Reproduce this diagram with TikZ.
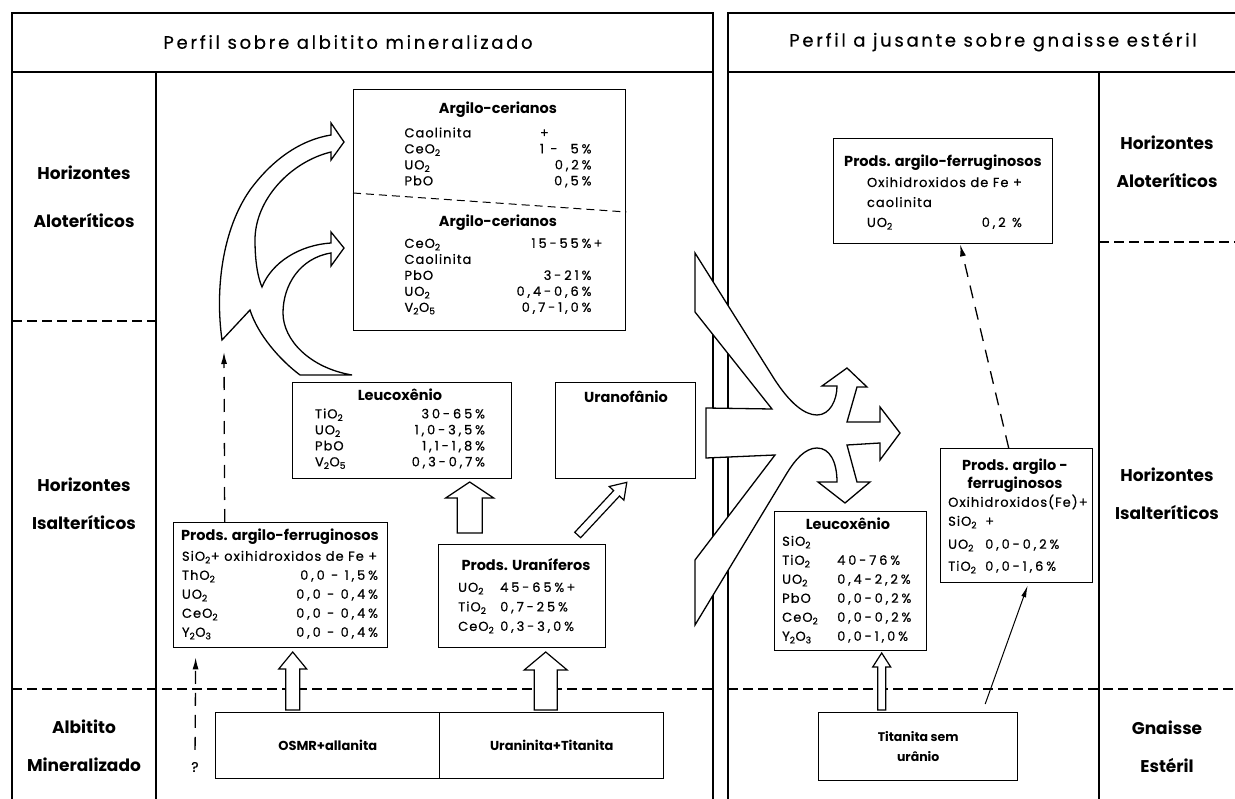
\documentclass[tikz,border=0pt]{standalone}
\usepackage{fontspec}
\setmainfont{Poppins}
\newfontfamily\bodyfont[LetterSpace=8,FakeBold=0.6]{Poppins}
\newfontfamily\numfont[LetterSpace=22,FakeBold=0.6]{Poppins}
\newfontfamily\ttlfont[LetterSpace=15,FakeBold=0.4]{Poppins}
\usetikzlibrary{arrows.meta,calc}

\newcommand{\low}[1]{\textsubscript{#1}}
\newcommand{\vl}[1]{{\numfont #1}}
\newcommand{\hd}[1]{\multicolumn{2}{c}{\makebox[0pt]{\normalfont\fontsize{14.5}{16}\selectfont\bfseries #1}}}
\newcommand{\oxrows}[2]{\begin{tabular*}{#1}{@{}l@{\extracolsep{\fill}}r@{}}#2\end{tabular*}}

\tikzset{
  frame/.style={line width=1.6pt},
  zone/.style={line width=1.2pt, dash pattern=on 10pt off 5pt},
  box/.style={draw, line width=1.4pt, inner sep=0pt, anchor=north west},
  txt/.style={inner sep=0pt, font=\bodyfont\fontsize{13}{16}\selectfont},
  head/.style={inner sep=0pt, align=center, font=\fontsize{14.5}{18}\selectfont\bfseries},
  lbl/.style={inner sep=0pt, align=center, font=\fontsize{17}{38}\selectfont\bfseries},
  band/.style={draw, fill=white, line width=1.3pt, line join=miter},
  hollow/.style={draw, fill=white, line width=1.2pt, line join=miter},
  dasharrow/.style={line width=1.3pt, dash pattern=on 13pt off 9pt, -{Latex[length=12pt,width=6pt]}},
  thinarrow/.style={line width=1pt, -{Latex[length=12pt,width=5pt]}},
  pics/harrow/.style n args={4}{code={
    \draw[hollow] (0,-#2) -- (#1-#4,-#2) -- (#1-#4,-#3) -- (#1,0)
      -- (#1-#4,#3) -- (#1-#4,#2) -- (0,#2) -- cycle;}}
}

\begin{document}
\begin{tikzpicture}[x=1pt,y=-1pt]
  \useasboundingbox (0,0) rectangle (1235,799);
  \fill[white] (0,0) rectangle (1235,799);
  \clip (0,0) rectangle (1235,799);

  % the two profiles
  \draw[frame] (12,805) -- (12,13) -- (713,13) -- (713,805);
  \draw[frame] (12,72) -- (713,72);
  \draw[frame] (156,72) -- (156,805);
  \draw[frame] (728,805) -- (728,13) -- (1240,13);
  \draw[frame] (728,72) -- (1240,72);
  \draw[frame] (1099,72) -- (1099,805);
  \draw[zone] (12,321) -- (156,321);
  \draw[zone] (1099,242) -- (1240,242);
  \draw[zone] (12,689) -- (713,689);
  \draw[zone] (728,689) -- (1240,689);

  \node[inner sep=0pt, font=\ttlfont\fontsize{18}{20}\selectfont] (ttlA) at (348,42) {Perfil sobre albitito mineralizado};
  \node[inner sep=0pt, font=\ttlfont\fontsize{18}{20}\selectfont] (ttlB) at (993,42) {Perfil a jusante sobre gnaisse estéril};

  \node[lbl] (aloA) at (84,197) {Horizontes\\[10pt]Aloteríticos};
  \node[lbl] (isaA) at (84,504) {Horizontes\\Isalteríticos};
  \node[lbl] (albA) at (84,746) {Albitito\\Mineralizado};
  \node[lbl] (aloB) at (1167,162) {Horizontes\\Aloteríticos};
  \node[lbl] (isaB) at (1167,494) {Horizontes\\Isalteríticos};
  \node[lbl] (gnaB) at (1167,747) {Gnaisse\\Estéril};

  % split arrow into the right profile
  \draw[band] (695,253) -- (773,377) .. controls (790,404) and (805,415) .. (817,415)
    .. controls (830,415) and (837,400) .. (837,386) -- (822,386) -- (847,368) -- (867,387)
    -- (857,387) -- (847,422) -- (880,422) -- (880,407) -- (900,433) -- (880,460)
    -- (880,443) -- (847,445) -- (857,482) -- (870,482) -- (845,503) -- (818,482)
    -- (837,482) .. controls (837,462) and (830,448) .. (817,448)
    .. controls (805,448) and (795,460) .. (787,473) -- (695,625) -- (695,560)
    -- (775,455) -- (706,458) -- (706,408) -- (772,409) -- (695,312) -- cycle;

  % forked arrow towards the argilo-cerianos
  \draw[band] (300,375) .. controls (280,360) and (258,335) .. (250,310) -- (222,340)
    .. controls (215,290) and (222,230) .. (250,190) .. controls (272,160) and (300,140) .. (331,135)
    -- (331,123) -- (344,142) -- (331,160) -- (331,152)
    .. controls (290,162) and (255,200) .. (255,240) .. controls (255,262) and (258,278) .. (262,287)
    .. controls (272,262) and (300,245) .. (331,243) -- (331,232) -- (344,248) -- (331,266)
    -- (331,253) .. controls (300,258) and (283,285) .. (283,313)
    .. controls (283,340) and (310,368) .. (352,375) -- cycle;
  \coordinate (forkfoot) at (224,352);

  \node[box, minimum width=272pt, minimum height=241pt] (argA) at (353,89) {};
  \draw[line width=1pt, dash pattern=on 8pt off 5pt] ($(argA.north west)+(0,104)$) -- ($(argA.north east)+(0,123)$);
  \node[txt] (argAtop) at (498,146) {\oxrows{187pt}{\hd{Argilo-cerianos}\\[8pt]
    Caolinita & \rlap{+}\vl{\phantom{1 -\quad 5\%}}\\
    CeO\low2 & \vl{1 -\quad 5\%}\\
    UO\low2 & \vl{0,2\%}\\
    PbO & \vl{0,5\%}}};
  \node[txt] (argAlow) at (498,266) {\oxrows{187pt}{\hd{Argilo-cerianos}\\[5pt]
    CeO\low2 & \vl{15-55\%}\rlap{\,+}\\
    Caolinita & \\
    PbO & \vl{3-21\%}\\
    UO\low2 & \vl{0,4-0,6\%}\\
    V\low2O\low5 & \vl{0,7-1,0\%}}};

  \node[box, minimum width=219pt, minimum height=96pt] (leucA) at (292,382) {};
  \node[txt] (leucAtxt) at (400,430) {\oxrows{170pt}{\hd{Leucoxênio}\\[2pt]
    TiO\low2 & \vl{30-65\%}\\
    UO\low2 & \vl{1,0-3,5\%}\\
    PbO & \vl{1,1-1,8\%}\\
    V\low2O\low5 & \vl{0,3-0,7\%}}};

  \node[box, minimum width=140pt, minimum height=96pt] (uran) at (555,382) {};
  \node[head] (urantxt) at (626,397) {Uranofânio};

  \node[box, minimum width=214pt, minimum height=125pt] (prodA) at (173,522) {};
  \node[txt, font=\bodyfont\fontsize{13}{19}\selectfont] (prodAtxt) at (280,585) {\oxrows{196pt}{\hd{Prods. argilo-ferruginosos}\\[1pt]
    \multicolumn{2}{@{}l@{}}{SiO\low2+ oxihidroxidos de Fe +}\\
    ThO\low2 & \vl{0,0 - 1,5\%}\\
    UO\low2 & \vl{0,0 - 0,4\%}\\
    CeO\low2 & \vl{0,0 - 0,4\%}\\
    Y\low2O\low3 & \vl{0,0 - 0,4\%}}};

  \node[box, minimum width=167pt, minimum height=103pt] (prodU) at (438,544) {};
  \node[head] (prodUhd) at (526,565) {Prods. Uraníferos};
  \node[txt, font=\bodyfont\fontsize{13}{19.5}\selectfont, anchor=west] (prodUtxt) at (458,607.5) {\begin{tabular}{@{}p{42pt}@{}l@{}}
    UO\low2 & \vl{45-65\%\,+}\\
    TiO\low2 & \vl{0,7-25\%}\\
    CeO\low2 & \vl{0,3-3,0\%}\end{tabular}};

  \node[box, minimum width=224pt, minimum height=66pt, font=\fontsize{13}{14}\selectfont\bfseries] (osmr) at (215,712) {OSMR+allanita};
  \node[box, minimum width=224pt, minimum height=66pt, font=\fontsize{13}{14}\selectfont\bfseries] (urant) at (439,712) {Uraninita+Titanita};
  \node[txt, font=\bodyfont\fontsize{14}{14}\selectfont] (qmark) at (195,767) {?};

  \pic[rotate=90] at ([xshift=-35pt,yshift=2pt]osmr.north) {harrow={58}{7}{14}{17}};
  \pic[rotate=90] at ([xshift=-6pt,yshift=2pt]urant.north) {harrow={58}{11.5}{21.5}{18}};
  \pic[rotate=90] at ([xshift=-52.5pt,yshift=11pt]prodU.north) {harrow={51}{12.5}{24}{16}};
  \pic[rotate=47] at ([xshift=55.5pt,yshift=9pt]prodU.north) {harrow={72}{4}{10}{15}};

  \draw[dasharrow] ([xshift=-56pt]prodA.north) -- (forkfoot);
  \draw[dasharrow, shorten >=9pt, shorten <=12pt] (qmark.north) -- ([xshift=-85pt]prodA.south);

  % right profile
  \node[box, minimum width=219pt, minimum height=105pt] (prodR1) at (833,138) {};
  \node[head] (prodR1hd) at (943,163) {Prods. argilo-ferruginosos};
  \node[txt, font=\bodyfont\fontsize{13}{20}\selectfont] (prodR1txt) at (943.5,203) {\oxrows{153pt}{
    \multicolumn{2}{@{}l@{}}{Oxihidroxidos de Fe +}\\
    \multicolumn{2}{@{}l@{}}{caolinita}\\
    UO\low2 & \vl{0,2 \%}}};

  \node[box, minimum width=152pt, minimum height=134pt] (prodR2) at (940,448) {};
  \node[head] (prodR2hd) at (1015,476) {Prods. argilo -\\ferruginosos};
  \node[txt, font=\bodyfont\fontsize{13}{19}\selectfont, anchor=west] (prodR2txt) at (948,535) {\begin{tabular}{@{}p{37pt}@{}l@{}}
    \multicolumn{2}{@{}l@{}}{Oxihidroxidos(Fe)+}\\
    SiO\low2 & +\\[4pt]
    UO\low2 & \vl{0,0-0,2\%}\\[3pt]
    TiO\low2 & \vl{0,0-1,6\%}\end{tabular}};

  \node[box, minimum width=152pt, minimum height=139pt] (leucB) at (774,511) {};
  \node[head] (leucBhd) at (848,524) {Leucoxênio};
  \node[txt, font=\bodyfont\fontsize{13}{19}\selectfont, anchor=west] (leucBtxt) at (782,589.5) {\begin{tabular}{@{}p{55pt}@{}l@{}}
    SiO\low2 & \\
    TiO\low2 & \vl{40-76\%}\\
    UO\low2 & \vl{0,4-2,2\%}\\
    PbO & \vl{0,0-0,2\%}\\
    CeO\low2 & \vl{0,0-0,2\%}\\
    Y\low2O\low3 & \vl{0,0-1,0\%}\end{tabular}};

  \node[box, minimum width=199pt, minimum height=68pt, align=center, font=\fontsize{12.5}{20}\selectfont\bfseries] (titan) at (818,712) {Titanita sem\\urânio};

  \pic[rotate=90] at ([xshift=-36.5pt,yshift=2pt]titan.north) {harrow={57}{4}{9}{14}};
  \draw[thinarrow] ([xshift=67pt,yshift=8pt]titan.north) -- ([xshift=11pt,yshift=-2pt]prodR2.south);
  \draw[dasharrow] ([xshift=-8pt]prodR2.north) -- ([xshift=17pt]prodR1.south);
\end{tikzpicture}
\end{document}
